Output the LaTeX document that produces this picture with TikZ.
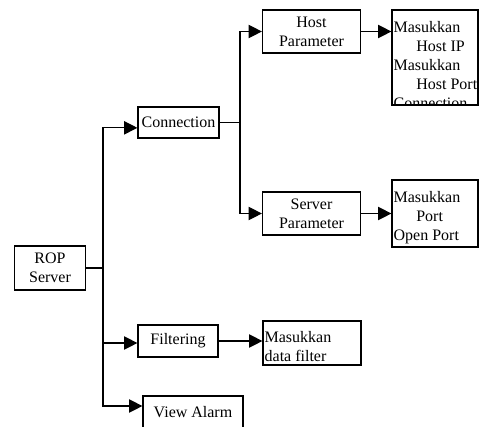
\documentclass[tikz,border=0pt]{standalone}
\usepackage{fontspec}
\setmainfont{Liberation Serif}
\usetikzlibrary{arrows.meta}

\tikzset{
  menu/.style={
    draw,
    line width=0.9pt,
    inner sep=1pt,
    align=center,
    font=\fontsize{12}{14.25}\selectfont
  },
  input/.style={
    draw,
    line width=0.9pt,
    inner sep=0pt
  },
  infotext/.style={
    inner sep=1.5pt,
    align=left,
    anchor=north west,
    yshift=-7.5pt,
    font=\fontsize{12}{14.25}\selectfont
  },
  link/.style={
    line width=0.9pt,
    -{Triangle[length=10pt,width=10pt]}
  }
}

\begin{document}
\begin{tikzpicture}[x=0.75pt, y=-0.75pt]
  \clip (0,0) rectangle (479,426);
  \useasboundingbox (0,0) rectangle (479,426);

  % menu nodes
  \node[menu, minimum width=53.25pt, minimum height=33pt] at (50,268) (rop) {ROP\\Server};
  \node[menu, minimum width=60.75pt, minimum height=23.25pt] at (178.5,122.5) (conn) {Connection};
  \node[menu, minimum width=60pt, minimum height=24pt] at (178,341) (filter) {Filtering};
  \node[menu, minimum width=75pt, minimum height=24pt] at (193,412) (alarm) {View Alarm};
  \node[menu, minimum width=73.5pt, minimum height=32.25pt] at (311.5,31.5) (hostpar) {Host\\Parameter};
  \node[menu, minimum width=73.5pt, minimum height=32.25pt] at (311.5,213.5) (serverpar) {Server\\Parameter};

  % input nodes
  \node[input, minimum width=73.5pt, minimum height=33pt] at (312,343) (datafilter) {};
  \node[infotext, yshift=1pt] at (datafilter.north west) (datafiltertext) {Masukkan\\data filter};
  \node[input, minimum width=64.5pt, minimum height=50.25pt] at (435,213.5) (serverin) {};
  \node[infotext] at (serverin.north west) (serverintext) {Masukkan\\\hspace*{17pt}Port\\Open Port};
  \node[input, minimum width=64.5pt, minimum height=71.25pt] at (435,57.5) (hostin) {};
  \begin{scope}
    \clip (hostin.south west) rectangle (hostin.north east);
    \node[infotext] at (hostin.north west) (hostintext) {Masukkan\\\hspace*{17pt}Host IP\\Masukkan\\\hspace*{17pt}Host Port\\Connection};
  \end{scope}

  % connectors
  \coordinate (trunk) at (103,268);
  \coordinate (split) at (240,123);
  \draw[line width=0.9pt] (rop.east) -- (rop.east -| trunk);
  \draw[link] (trunk) |- ([yshift=-4pt]conn.west);
  \draw[link] (trunk) |- ([yshift=-1.5pt]filter.west);
  \draw[link] (trunk) |- ([yshift=4.5pt]alarm.west);
  \draw[line width=0.9pt] (conn.east) -- (conn.east -| split);
  \draw[link] (split) |- (hostpar.west);
  \draw[link] (split) |- (serverpar.west);
  \draw[link] (hostpar.east) -- (hostpar.east -| hostin.west);
  \draw[link] (serverpar.east) -- (serverpar.east -| serverin.west);
  \draw[link] (filter.east) -- (filter.east -| datafilter.west);
\end{tikzpicture}
\end{document}
